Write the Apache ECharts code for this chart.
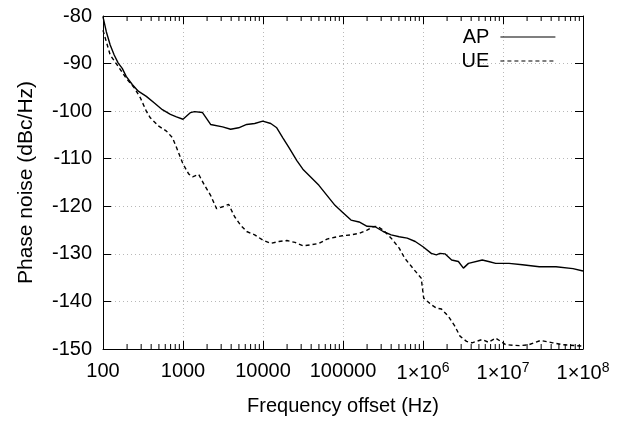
<!DOCTYPE html>
<html>
<head>
<meta charset="utf-8">
<script src="https://cdn.jsdelivr.net/npm/echarts@6/dist/echarts.min.js"></script>
<style>
html,body{margin:0;padding:0;background:#fff;}
#c{width:619px;height:421px;}
</style>
</head>
<body>
<div id="c"></div>
<script>
// ---- data ----
var apFreq  = [100,110,123,138,155,174,195,232,276,348,439,552,696,828,1000,1242,1393,1754,2213,3126,3937,4962,6252,7874,9931,12500,14860,17700,21040,26490,31500,39700,50000,63000,79400,97700,126000,159000,200000,252000,318000,400000,504000,635000,800000,1000000,1270000,1470000,1630000,1880000,2280000,2770000,3200000,3700000,5500000,6600000,8100000,11900000,17500000,28400000,46000000,75000000,100000000];
var apPhase = [-80.2,-83.3,-86.1,-88.2,-89.9,-91.0,-92.7,-94.4,-95.8,-96.9,-98.3,-99.7,-100.7,-101.2,-101.7,-100.3,-100.1,-100.3,-102.8,-103.3,-103.8,-103.5,-102.8,-102.6,-102.1,-102.6,-103.5,-105.6,-107.6,-110.4,-112.2,-113.9,-115.6,-117.7,-119.8,-121.2,-122.9,-123.3,-124.2,-124.3,-125.3,-126.0,-126.4,-126.7,-127.4,-128.5,-129.9,-130.2,-129.9,-130.0,-131.3,-131.6,-133.0,-132.0,-131.3,-131.6,-132.0,-132.0,-132.3,-132.7,-132.7,-133.1,-133.6];

var ueFreq  = [100,110,123,155,195,246,293,348,390,493,621,739,828,1000,1176,1318,1570,1860,2213,2630,3126,3718,4420,5260,6252,7874,9931,12500,15800,19900,25100,31500,39700,50000,63000,79400,97700,126000,159000,200000,238000,267000,318000,400000,504000,590000,780000,950000,1020000,1270000,1470000,1700000,2070000,2500000,2900000,3500000,4100000,5500000,6600000,8100000,10800000,16000000,21000000,29500000,42000000,56000000,100000000];
var uePhase = [-83.0,-85.4,-88.2,-90.6,-93.1,-95.1,-97.2,-100.0,-101.4,-103.1,-104.2,-105.6,-107.6,-111.1,-113.2,-113.8,-113.3,-115.6,-117.7,-120.5,-120.1,-119.6,-122.2,-124.0,-125.3,-126.0,-127.1,-127.8,-127.4,-127.2,-127.6,-128.3,-128.1,-127.8,-126.9,-126.5,-126.2,-126.0,-125.7,-125.0,-124.3,-124.2,-125.0,-126.7,-128.8,-130.9,-133.4,-135.1,-139.3,-140.7,-141.4,-141.6,-143.1,-145.2,-147.3,-148.4,-148.7,-148.0,-148.6,-147.7,-149.1,-149.3,-149.1,-148.2,-148.7,-149.1,-149.4];

var seriesNames = ['AP','UE'];
var xTickValues = [100,1000,10000,100000,1000000,10000000,100000000];
var xTickLabels = ['100','1000','10000','100000','1×10{sup|6}','1×10{sup|7}','1×10{sup|8}'];
var minorTickFactors = [2,3,4,5,6,7,8,9];

// ---- build ----
function zip(a,b){var r=[];for(var i=0;i<a.length;i++)r.push([a[i],b[i]]);return r;}
var minorTicks=[];
for(var d=100; d<1e8; d*=10){minorTickFactors.forEach(function(m){minorTicks.push([d*m]);});}

var FONT='"Liberation Sans", Arial, sans-serif';
var chart=echarts.init(document.getElementById('c'),null,{renderer:'canvas'});

function xLabel(v){
  var e=Math.round(Math.log10(v));
  for(var i=0;i<xTickValues.length;i++){ if(Math.round(Math.log10(xTickValues[i]))===e) return xTickLabels[i]; }
  return '';
}

var gridStyle={show:true,lineStyle:{color:'#b8b8b8',type:[1,3],width:1}};
var option={
  animation:false,
  backgroundColor:'#fff',
  textStyle:{fontFamily:FONT},
  grid:{left:103,right:36,top:16,bottom:71,containLabel:false},
  legend:{
    data:seriesNames,
    orient:'vertical',
    right:58,top:22,
    align:'right',
    itemWidth:55,itemHeight:14,itemGap:4,
    itemStyle:{opacity:0},
    lineStyle:{width:1.2},
    textStyle:{fontSize:20,color:'#000',fontFamily:FONT,padding:[0,6,0,0]}
  },
  xAxis:[{
    type:'log',logBase:10,min:100,max:1e8,interval:1,
    name:'Frequency offset (Hz)',nameLocation:'middle',nameGap:47,
    nameTextStyle:{fontSize:20,color:'#000',fontFamily:FONT},
    axisLine:{show:true,lineStyle:{color:'#000',width:1}},
    axisTick:{show:true,inside:true,length:8,lineStyle:{color:'#000'}},
    minorTick:{show:false},
    splitLine:gridStyle,
    axisLabel:{fontSize:20,color:'#000',fontFamily:FONT,margin:12,formatter:xLabel,
      rich:{sup:{fontSize:14,fontFamily:FONT,color:'#000',padding:[0,0,10,0]}}}
  },{
    type:'log',logBase:10,min:100,max:1e8,interval:1,position:'top',
    axisLine:{show:true,lineStyle:{color:'#000',width:1}},
    axisTick:{show:true,inside:true,length:8,lineStyle:{color:'#000'}},
    axisLabel:{show:false},splitLine:{show:false}
  }],
  yAxis:[{
    type:'value',min:-150,max:-80,interval:10,
    name:'Phase noise (dBc/Hz)',nameLocation:'middle',nameGap:66,nameRotate:90,
    nameTextStyle:{fontSize:21,color:'#000',fontFamily:FONT},
    axisLine:{show:true,lineStyle:{color:'#000',width:1}},
    axisTick:{show:true,inside:true,length:8,lineStyle:{color:'#000'}},
    splitLine:gridStyle,
    axisLabel:{fontSize:20,color:'#000',fontFamily:FONT,margin:11}
  },{
    type:'value',min:-150,max:-80,interval:10,position:'right',
    axisLine:{show:true,lineStyle:{color:'#000',width:1}},
    axisTick:{show:true,inside:true,length:8,lineStyle:{color:'#000'}},
    axisLabel:{show:false},splitLine:{show:false}
  }],
  series:[
    {name:'AP',type:'line',data:zip(apFreq,apPhase),symbol:'none',showSymbol:false,
     lineStyle:{color:'#000',width:1.4,type:'solid'},itemStyle:{color:'#000'},z:3},
    {name:'UE',type:'line',data:zip(ueFreq,uePhase),symbol:'none',showSymbol:false,
     lineStyle:{color:'#000',width:1.4,type:[4,3]},itemStyle:{color:'#000'},z:3},
    {name:'minor',type:'custom',data:minorTicks,silent:true,z:4,
     renderItem:function(params,api){
       var v=api.value(0);
       var b=api.coord([v,-150]); var t=api.coord([v,-80]);
       return {type:'group',children:[
         {type:'line',shape:{x1:b[0],y1:b[1],x2:b[0],y2:b[1]-5},style:{stroke:'#000',lineWidth:1}},
         {type:'line',shape:{x1:t[0],y1:t[1],x2:t[0],y2:t[1]+5},style:{stroke:'#000',lineWidth:1}}
       ]};
     }}
  ]
};
chart.setOption(option);
</script>
</body>
</html>
